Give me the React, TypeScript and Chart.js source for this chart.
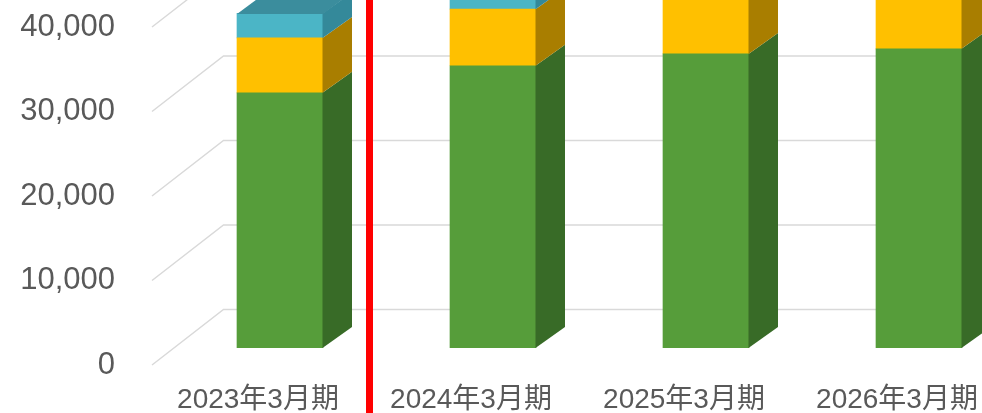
import React, { useEffect, useRef } from 'react';
import { Chart, registerables } from 'chart.js';

Chart.register(...registerables);

// ---- data ----
const categories = ['2023年3月期', '2024年3月期', '2025年3月期', '2026年3月期'];
const seriesNames = ['系列1', '系列2', '系列3'];
const seriesGreen = [30200, 33400, 34800, 35400];
const seriesYellow = [6500, 6700, 7000, 7000];
const seriesCyan = [2900, 2900, 2900, 2900];
const yMin = 0;
const yMax = 50000;
const yStep = 10000;

// ---- styles ----
const frontColors = ['#569D3A', '#FFC000', '#4BB5C6'];
const sideColors = ['#386B27', '#A97E00', '#34899A'];
const topColor = '#3B8D9D';
const DX = 29;
const DY = -21;
const FONT = '"Liberation Sans", "Noto Sans CJK JP", Arial, sans-serif';

const CANVAS_W = 1040;
const CANVAS_H = 513;
const SHIFT_Y = 100;

const wallPlugin = {
  id: 'wall3d',
  beforeDatasetsDraw(chart: any) {
    const { ctx, chartArea, scales } = chart;
    const ys = scales.y;
    ctx.save();
    ctx.strokeStyle = '#D9D9D9';
    ctx.lineWidth = 1.5;
    ys.ticks.forEach((t: any) => {
      const py = ys.getPixelForValue(t.value);
      ctx.beginPath();
      ctx.moveTo(chartArea.left - 21.5, py + 17);
      ctx.lineTo(chartArea.left + 50, py - 38.5);
      ctx.lineTo(chart.width, py - 38.5);
      ctx.stroke();
    });
    ctx.restore();
  },
};

const depthPlugin = {
  id: 'depth3d',
  afterDatasetsDraw(chart: any) {
    const ctx = chart.ctx;
    const n = chart.data.datasets.length;
    ctx.save();
    chart.data.datasets.forEach((_ds: any, di: number) => {
      const meta = chart.getDatasetMeta(di);
      meta.data.forEach((el: any) => {
        const { x, y, base, width } = el.getProps(['x', 'y', 'base', 'width'], true);
        const l = x - width / 2;
        const r = x + width / 2;
        const top = Math.min(y, base);
        const bot = Math.max(y, base);
        ctx.fillStyle = sideColors[di];
        ctx.beginPath();
        ctx.moveTo(r - 0.5, bot);
        ctx.lineTo(r + DX, bot + DY);
        ctx.lineTo(r + DX, top + DY);
        ctx.lineTo(r - 0.5, top);
        ctx.closePath();
        ctx.fill();
        if (di === n - 1) {
          ctx.fillStyle = topColor;
          ctx.beginPath();
          ctx.moveTo(l, top + 0.5);
          ctx.lineTo(l + DX, top + DY);
          ctx.lineTo(r + DX, top + DY);
          ctx.lineTo(r, top + 0.5);
          ctx.closePath();
          ctx.fill();
        }
      });
    });
    ctx.restore();
  },
};

const dividerPlugin = {
  id: 'divider',
  afterDraw(chart: any) {
    const { ctx, scales } = chart;
    const xs = scales.x;
    const x = (xs.getPixelForValue(0) + xs.getPixelForValue(1)) / 2 - 17;
    ctx.save();
    ctx.strokeStyle = '#FF0000';
    ctx.lineWidth = 7;
    ctx.beginPath();
    ctx.moveTo(x, 0);
    ctx.lineTo(x, chart.height);
    ctx.stroke();
    ctx.restore();
  },
};

const zeroPad = (s: any) => {
  s.paddingTop = 0;
  s.paddingBottom = 0;
  s.paddingLeft = 0;
  s.paddingRight = 0;
};

export default function App() {
  const ref = useRef<HTMLCanvasElement>(null);

  useEffect(() => {
    if (!ref.current) return;
    const series = [seriesGreen, seriesYellow, seriesCyan];
    const chart = new Chart(ref.current, {
      type: 'bar',
      data: {
        labels: categories,
        datasets: series.map((data, i) => ({
          label: seriesNames[i],
          data,
          backgroundColor: frontColors[i],
          borderWidth: 0,
          barThickness: 86,
        })),
      },
      options: {
        animation: false,
        responsive: false,
        devicePixelRatio: 1,
        layout: { padding: { top: 25.5, left: 0, right: 14.5, bottom: 0 } },
        plugins: {
          legend: { display: false },
          tooltip: { enabled: false },
        },
        scales: {
          x: {
            stacked: true,
            grid: { display: false, drawTicks: false },
            border: { display: false },
            ticks: {
              color: '#595959',
              font: { family: FONT, size: 28 },
              padding: 35.2,
              labelOffset: -22,
              maxRotation: 0,
              minRotation: 0,
              autoSkip: false,
            },
            afterFit: (s: any) => {
              s.height = 65;
              zeroPad(s);
            },
          },
          y: {
            stacked: true,
            min: yMin,
            max: yMax,
            grid: { display: false, drawTicks: false },
            border: { display: false },
            ticks: {
              stepSize: yStep,
              color: '#595959',
              font: { family: FONT, size: 31 },
              padding: 58.5,
              labelOffset: 17,
              callback: (v: any) => Number(v).toLocaleString('en-US'),
            },
            afterFit: (s: any) => {
              s.width = 173.5;
              zeroPad(s);
            },
          },
        },
      },
      plugins: [wallPlugin, depthPlugin, dividerPlugin],
    });
    return () => chart.destroy();
  }, []);

  return (
    <div
      style={{
        position: 'fixed',
        left: 0,
        top: 0,
        width: 982,
        height: 413,
        overflow: 'hidden',
        background: '#FFFFFF',
      }}
    >
      <canvas
        ref={ref}
        width={CANVAS_W}
        height={CANVAS_H}
        style={{ position: 'absolute', left: 0, top: -SHIFT_Y, width: CANVAS_W, height: CANVAS_H, display: 'block' }}
      />
    </div>
  );
}
